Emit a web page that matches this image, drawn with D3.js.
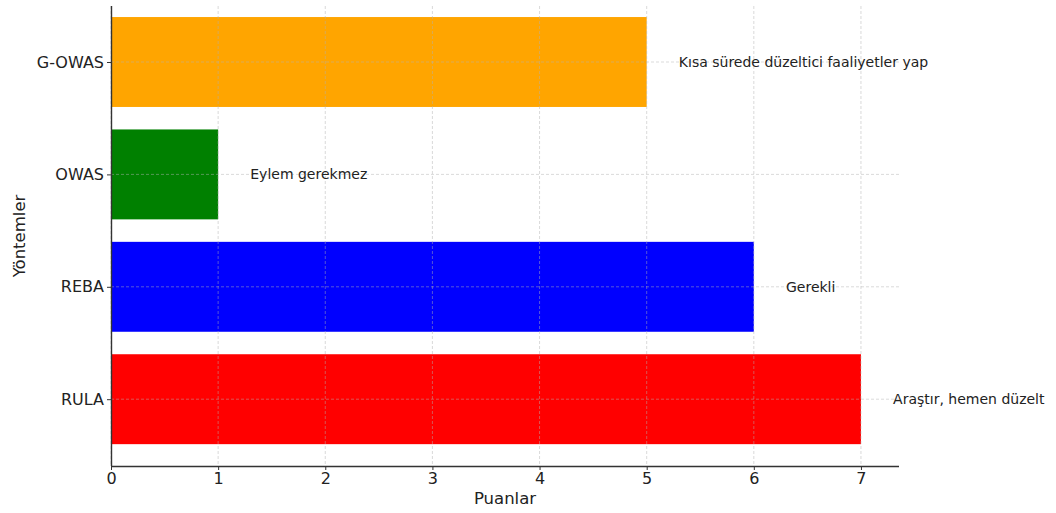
<!DOCTYPE html>
<html><head><meta charset="utf-8">
<script src="https://cdn.jsdelivr.net/npm/d3@7"></script>
<style>body{margin:0;background:#fff;} text{font-family:"DejaVu Sans",sans-serif;}</style>
</head><body><svg id="c" width="1056" height="513"></svg>
<script>
const categories = ["RULA", "REBA", "OWAS", "G-OWAS"];
const scores = [7, 6, 1, 5];
const colors = ["red", "blue", "green", "orange"];
const notes = ["Araştır, hemen düzelt", "Gerekli", "Eylem gerekmez", "Kısa sürede düzeltici faaliyetler yap"];
const xTicks = [0, 1, 2, 3, 4, 5, 6, 7];

const svg = d3.select("#c");
const L = 111, R = 899, T = 6, B = 466;
const x = d3.scaleLinear().domain([0, 7.355]).range([L, R]);
const y = d3.scaleLinear().domain([0, 3]).range([399.2, 62]);
const bh = y(0) - y(0.8);

svg.selectAll("rect.bar").data(categories).enter().append("rect")
  .attr("x", x(0)).attr("y", (d, i) => y(i) - bh / 2)
  .attr("width", (d, i) => x(scores[i]) - x(0)).attr("height", bh)
  .attr("fill", (d, i) => colors[i]);

// grid
svg.selectAll("line.gx").data(xTicks).enter().append("line")
  .attr("x1", d => x(d)).attr("x2", d => x(d)).attr("y1", T).attr("y2", B)
  .attr("stroke", "#b0b0b0").attr("stroke-opacity", 0.6).attr("stroke-dasharray", "3,2").attr("stroke-width", 0.8);
svg.selectAll("line.gy").data(categories).enter().append("line")
  .attr("x1", L).attr("x2", R).attr("y1", (d, i) => y(i)).attr("y2", (d, i) => y(i))
  .attr("stroke", "#b0b0b0").attr("stroke-opacity", 0.6).attr("stroke-dasharray", "3,2").attr("stroke-width", 0.8);

// annotations
svg.selectAll("text.note").data(notes).enter().append("text")
  .attr("x", (d, i) => x(scores[i] + 0.3)).attr("y", (d, i) => y(i))
  .attr("dy", "0.35em").attr("font-size", 14).attr("fill", "#222").text(d => d);

// axes
const xa = svg.append("g").attr("transform", `translate(0,${B})`)
  .call(d3.axisBottom(x).tickValues(xTicks).tickFormat(d3.format("d")).tickSize(4).tickPadding(3));
xa.select(".domain").attr("d", `M${L},0.5H${R}`);
const ya = svg.append("g").attr("transform", `translate(${L},0)`)
  .call(d3.axisLeft(y).tickValues([0, 1, 2, 3]).tickFormat(i => categories[i]).tickSize(4).tickPadding(3));
ya.select(".domain").attr("d", `M0.5,${T}V${B}`);
[xa, ya].forEach(g => {
  g.select(".domain").attr("stroke", "#333").attr("stroke-width", 1.4);
  g.selectAll(".tick line").attr("stroke", "#333");
  g.selectAll(".tick text").attr("font-size", 16).attr("fill", "#222").attr("font-family", "DejaVu Sans");
});

svg.append("text").attr("x", (L + R) / 2).attr("y", 504).attr("text-anchor", "middle")
  .attr("font-size", 16.5).attr("fill", "#222").text("Puanlar");
svg.append("text").attr("transform", `translate(25,${(T + B) / 2}) rotate(-90)`)
  .attr("text-anchor", "middle").attr("font-size", 16.5).attr("fill", "#222").text("Yöntemler");
</script></body></html>
